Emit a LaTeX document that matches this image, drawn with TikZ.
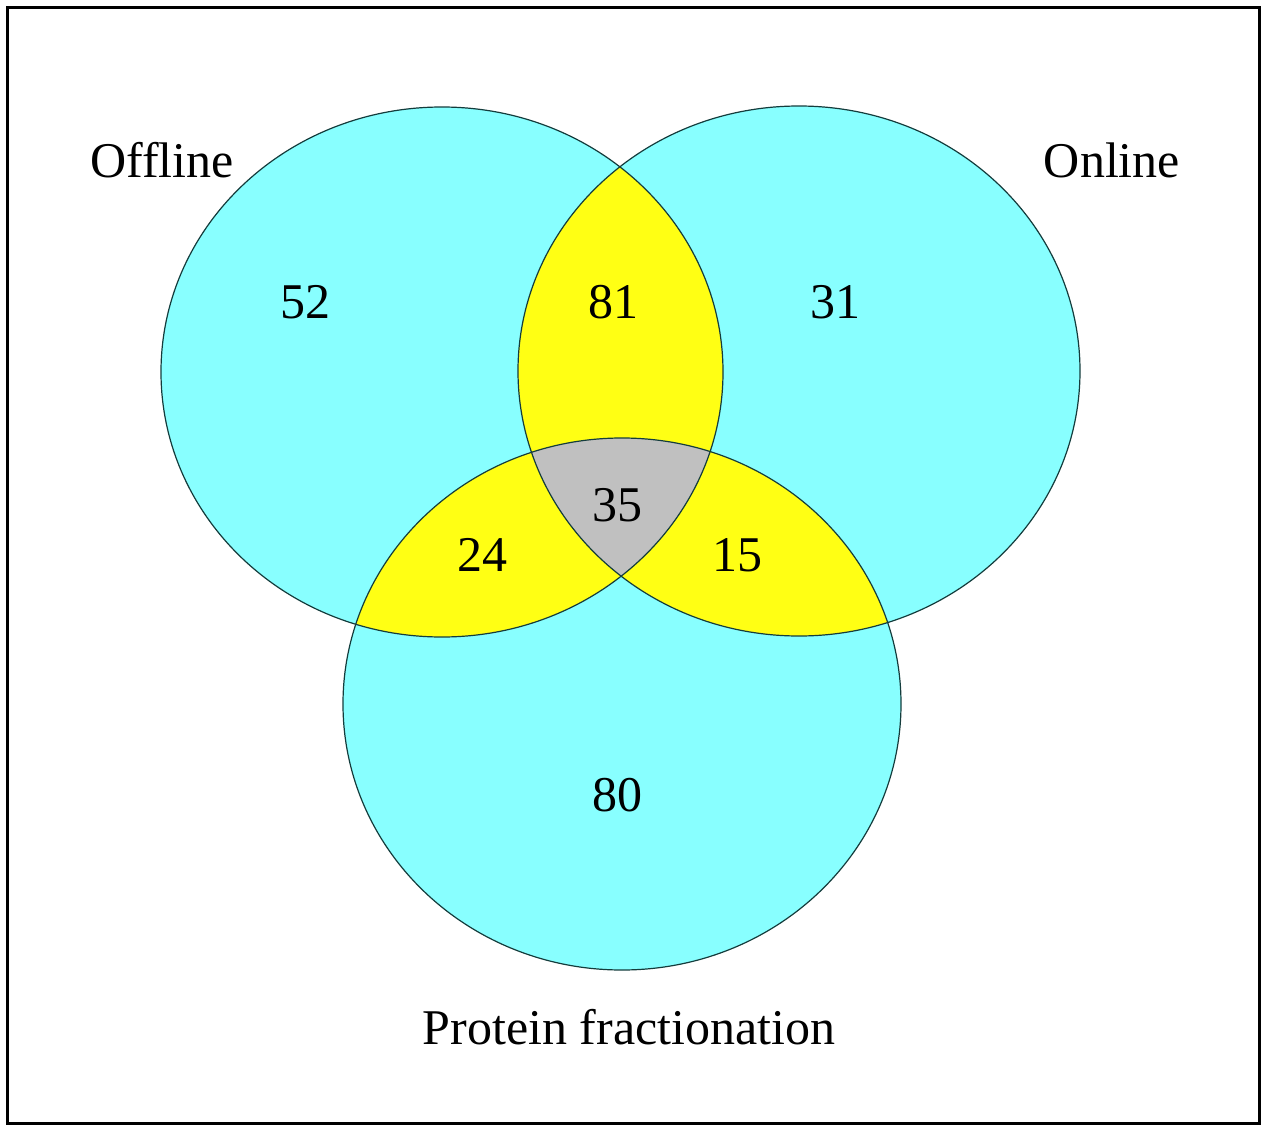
\documentclass[tikz,border=0pt]{standalone}
\usepackage{fontspec}
\setmainfont{Liberation Serif}
\usepackage{xcolor}
\definecolor{venncyan}{RGB}{136,255,255}
\definecolor{vennyellow}{RGB}{255,255,20}
\definecolor{venngray}{RGB}{192,192,192}
\definecolor{vennline}{RGB}{20,60,60}

\begin{document}
\begin{tikzpicture}[x=1pt,y=-1pt]
				\tikzstyle{ring} = [draw=vennline,line width=1.2pt]
				\tikzstyle{txt} = [font=\fontsize{50}{60}\selectfont,inner sep=0pt]
				\useasboundingbox (0,0) rectangle (1262,1127);
				\def\offline{(442,372) ellipse [x radius=281pt,y radius=265pt]}
				\def\online{(799,371) ellipse [x radius=281pt,y radius=265pt]}
				\def\protein{(622,704) ellipse [x radius=279pt,y radius=266pt]}
				\fill[venncyan] \offline;
				\fill[venncyan] \online;
				\fill[venncyan] \protein;
				\begin{scope}
				\clip \offline;
				\fill[vennyellow] \online;
				\fill[vennyellow] \protein;
				\end{scope}
				\begin{scope}
				\clip \online;
				\fill[vennyellow] \protein;
				\end{scope}
				\begin{scope}
				\clip \offline;
				\clip \online;
				\fill[venngray] \protein;
				\end{scope}
				\draw[ring] \offline;
				\draw[ring] \online;
				\draw[ring] \protein;
				\draw[line width=3pt] (7,7) rectangle (1259,1123);
				\node[txt] (offline) at (162,160) {Offline};
				\node[txt] (online) at (1112,160) {Online};
				\node[txt] (protein) at (629,1027) {Protein fractionation};
				\node[txt] (n52) at (305,302) {52};
				\node[txt] (n81) at (613,302) {81};
				\node[txt] (n31) at (835,302) {31};
				\node[txt] (n35) at (617,505) {35};
				\node[txt] (n24) at (482,555) {24};
				\node[txt] (n15) at (737,555) {15};
				\node[txt] (n80) at (617,795) {80};
				\end{tikzpicture}
\end{document}
